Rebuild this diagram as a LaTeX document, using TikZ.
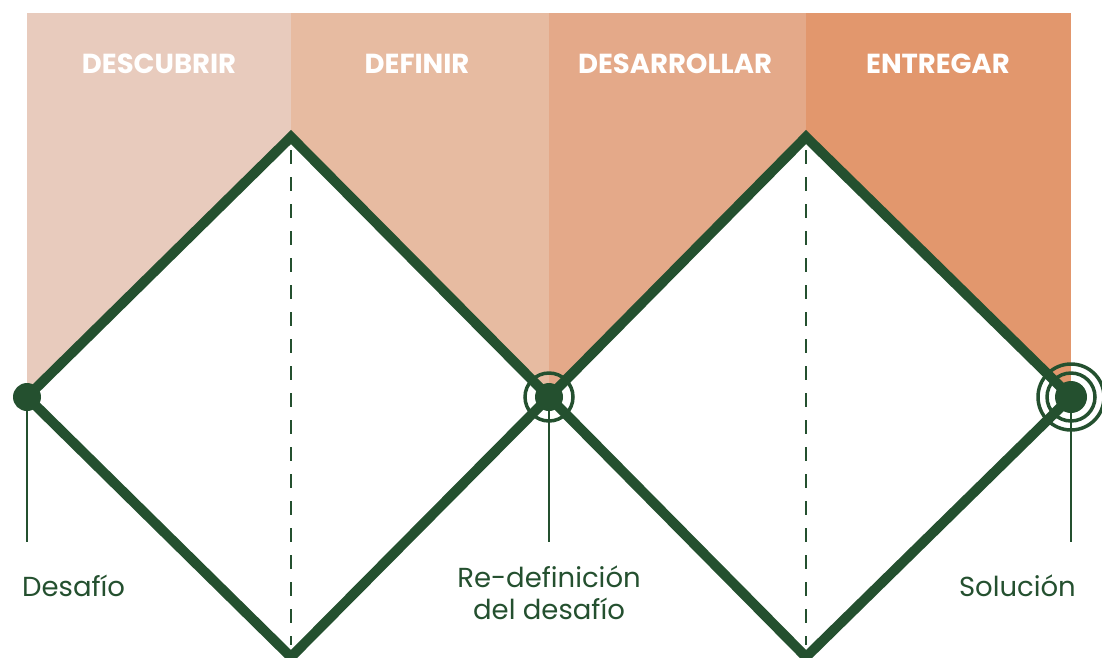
\documentclass[tikz,border=0pt]{standalone}
\usepackage{fontspec}
\setmainfont{Poppins}
\definecolor{dg}{HTML}{24502F}
\definecolor{c1}{HTML}{E8CBBD}
\definecolor{c2}{HTML}{E7BBA1}
\definecolor{c3}{HTML}{E4A989}
\definecolor{c4}{HTML}{E2976D}
\begin{document}
\begin{tikzpicture}[x=1pt,y=-1pt,
  head/.style={text=white,font=\fontsize{27.5}{30}\selectfont\bfseries},
  lab/.style={text=dg,font=\fontsize{27.5}{32}\selectfont,align=center,inner sep=0pt},
  zig/.style={draw=dg,line width=10pt,line join=miter},
  dsh/.style={draw=dg,line width=2pt,dash pattern=on 14pt off 13pt},
  stem/.style={draw=dg,line width=2pt},
  ring/.style={draw=dg,line width=3.5pt}]
\useasboundingbox (0,0) rectangle (1102,657);
\coordinate (L) at (27,397);
\coordinate (T1) at (291,137);
\coordinate (B1) at (291,657);
\coordinate (M) at (549,397);
\coordinate (T2) at (806,137);
\coordinate (B2) at (806,657);
\coordinate (R) at (1071,397);
% panels
\fill[c1] (27,13) rectangle (291,397) ;
\fill[c2] (291,13) rectangle (549,397);
\fill[c3] (549,13) rectangle (806,397);
\fill[c4] (806,13) rectangle (1071,397);
\fill[white] (L) -- (T1) -- (M) -- (T2) -- (R) -- (1071,400) -- (27,400) -- cycle;
% headers
\node[head] (h1) at (159,64) {DESCUBRIR};
\node[head] (h2) at (417,64) {DEFINIR};
\node[head] (h3) at (675,64) {DESARROLLAR};
\node[head] (h4) at (938,64) {ENTREGAR};
% dashed
\draw[dsh] (291,150) -- (291,645);
\draw[dsh] (806,150) -- (806,645);
% zigzag
\draw[zig] (L) -- (T1) -- (M) -- (T2) -- (R) -- (B2) -- (M) -- (B1) -- cycle;
% stems
\coordinate (sL) at (27,542);
\coordinate (sM) at (549,542);
\coordinate (sR) at (1071,542);
\draw[stem] (L) -- (sL);
\draw[stem] (M) -- (sM);
\draw[stem] (R) -- (sR);
% dots
\fill[dg] (L) circle (14);
\fill[dg] (M) circle (14);
\draw[ring] (M) circle (24);
\fill[dg] (R) circle (16);
\draw[ring] (R) circle (24);
\draw[ring] (R) circle (33);
% labels
\node[lab,anchor=west] (d) at (22,586) {Desafío};
\node[lab] (rd) at (549,593) {Re-definición\\del desafío};
\node[lab,anchor=east] (s) at (1076,586) {Solución};
\end{tikzpicture}
\end{document}
